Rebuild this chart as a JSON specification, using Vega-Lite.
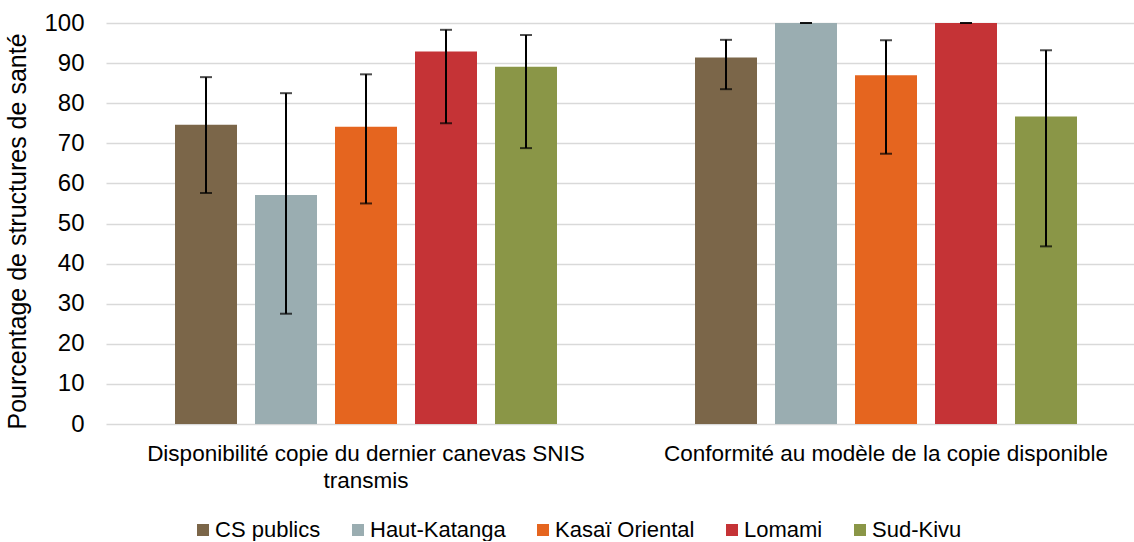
{
  "$schema": "https://vega.github.io/schema/vega-lite/v6.json",
  "width": 1027,
  "height": 401,
  "padding": {"top": 11, "left": 5, "right": 0, "bottom": 0},
  "config": {
    "view": {"stroke": null},
    "font": "Liberation Sans",
    "axis": {"labelFont": "Liberation Sans", "titleFont": "Liberation Sans"},
    "legend": {"labelFont": "Liberation Sans"}
  },
  "data": {
    "values": [
      {"indicateur": "Disponibilité copie du dernier canevas SNIS transmis", "zone": "CS publics", "valeur": 74.6, "bas": 57.6, "haut": 86.5},
      {"indicateur": "Disponibilité copie du dernier canevas SNIS transmis", "zone": "Haut-Katanga", "valeur": 57.1, "bas": 27.5, "haut": 82.5},
      {"indicateur": "Disponibilité copie du dernier canevas SNIS transmis", "zone": "Kasaï Oriental", "valeur": 74.1, "bas": 55.0, "haut": 87.2},
      {"indicateur": "Disponibilité copie du dernier canevas SNIS transmis", "zone": "Lomami", "valeur": 92.9, "bas": 75.0, "haut": 98.3},
      {"indicateur": "Disponibilité copie du dernier canevas SNIS transmis", "zone": "Sud-Kivu", "valeur": 89.1, "bas": 68.8, "haut": 97.0},
      {"indicateur": "Conformité au modèle de la copie disponible", "zone": "CS publics", "valeur": 91.4, "bas": 83.5, "haut": 95.8},
      {"indicateur": "Conformité au modèle de la copie disponible", "zone": "Haut-Katanga", "valeur": 100, "bas": 100, "haut": 100},
      {"indicateur": "Conformité au modèle de la copie disponible", "zone": "Kasaï Oriental", "valeur": 87.0, "bas": 67.4, "haut": 95.7},
      {"indicateur": "Conformité au modèle de la copie disponible", "zone": "Lomami", "valeur": 100, "bas": 100, "haut": 100},
      {"indicateur": "Conformité au modèle de la copie disponible", "zone": "Sud-Kivu", "valeur": 76.7, "bas": 44.3, "haut": 93.2}
    ]
  },
  "encoding": {
    "x": {
      "field": "indicateur",
      "type": "nominal",
      "sort": ["Disponibilité copie du dernier canevas SNIS transmis", "Conformité au modèle de la copie disponible"],
      "scale": {"range": [0, 1040], "paddingInner": 0, "paddingOuter": 0},
      "axis": {
        "title": null,
        "labelAngle": 0,
        "labelFontSize": 22.5,
        "labelColor": "#000000",
        "labelPadding": 18,
        "labelLimit": 700,
        "labelLineHeight": 27,
        "ticks": false,
        "domain": false,
        "grid": false,
        "labelExpr": "datum.value == 'Disponibilité copie du dernier canevas SNIS transmis' ? ['Disponibilité copie du dernier canevas SNIS', 'transmis'] : datum.value"
      }
    },
    "xOffset": {
      "field": "zone",
      "type": "nominal",
      "sort": ["CS publics", "Haut-Katanga", "Kasaï Oriental", "Lomami", "Sud-Kivu"],
      "scale": {"paddingInner": 0.225, "paddingOuter": 0.8625}
    }
  },
  "layer": [
    {
      "mark": {"type": "bar"},
      "encoding": {
        "y": {
          "field": "valeur",
          "type": "quantitative",
          "scale": {"domain": [0, 100]},
          "axis": {
            "values": [0, 10, 20, 30, 40, 50, 60, 70, 80, 90, 100],
            "title": "Pourcentage de structures de santé",
            "titleFontSize": 25,
            "titleFontWeight": "normal",
            "titleColor": "#000000",
            "titlePadding": 13,
            "titleY": 208,
            "labelFontSize": 24,
            "labelColor": "#000000",
            "labelPadding": 22,
            "ticks": false,
            "domain": false,
            "gridColor": "#D9D9D9",
            "gridWidth": 1.5
          }
        },
        "color": {
          "field": "zone",
          "type": "nominal",
          "sort": ["CS publics", "Haut-Katanga", "Kasaï Oriental", "Lomami", "Sud-Kivu"],
          "scale": {
            "domain": ["CS publics", "Haut-Katanga", "Kasaï Oriental", "Lomami", "Sud-Kivu"],
            "range": ["#7B6649", "#9AADB1", "#E5651F", "#C53336", "#8A9647"]
          },
          "legend": {
            "title": null,
            "orient": "none",
            "legendX": 86,
            "legendY": 496,
            "direction": "horizontal",
            "symbolType": "square",
            "symbolSize": 144,
            "symbolStrokeWidth": 0,
            "labelFontSize": 22,
            "labelColor": "#000000",
            "labelOffset": 1,
            "columnPadding": 26
          }
        }
      }
    },
    {
      "mark": {"type": "rule", "color": "#000000", "strokeWidth": 2},
      "encoding": {
        "y": {"field": "bas", "type": "quantitative"},
        "y2": {"field": "haut"}
      }
    },
    {
      "mark": {"type": "tick", "color": "#000000", "thickness": 2, "size": 12},
      "encoding": {"y": {"field": "bas", "type": "quantitative"}}
    },
    {
      "mark": {"type": "tick", "color": "#000000", "thickness": 2, "size": 12},
      "encoding": {"y": {"field": "haut", "type": "quantitative"}}
    }
  ]
}
